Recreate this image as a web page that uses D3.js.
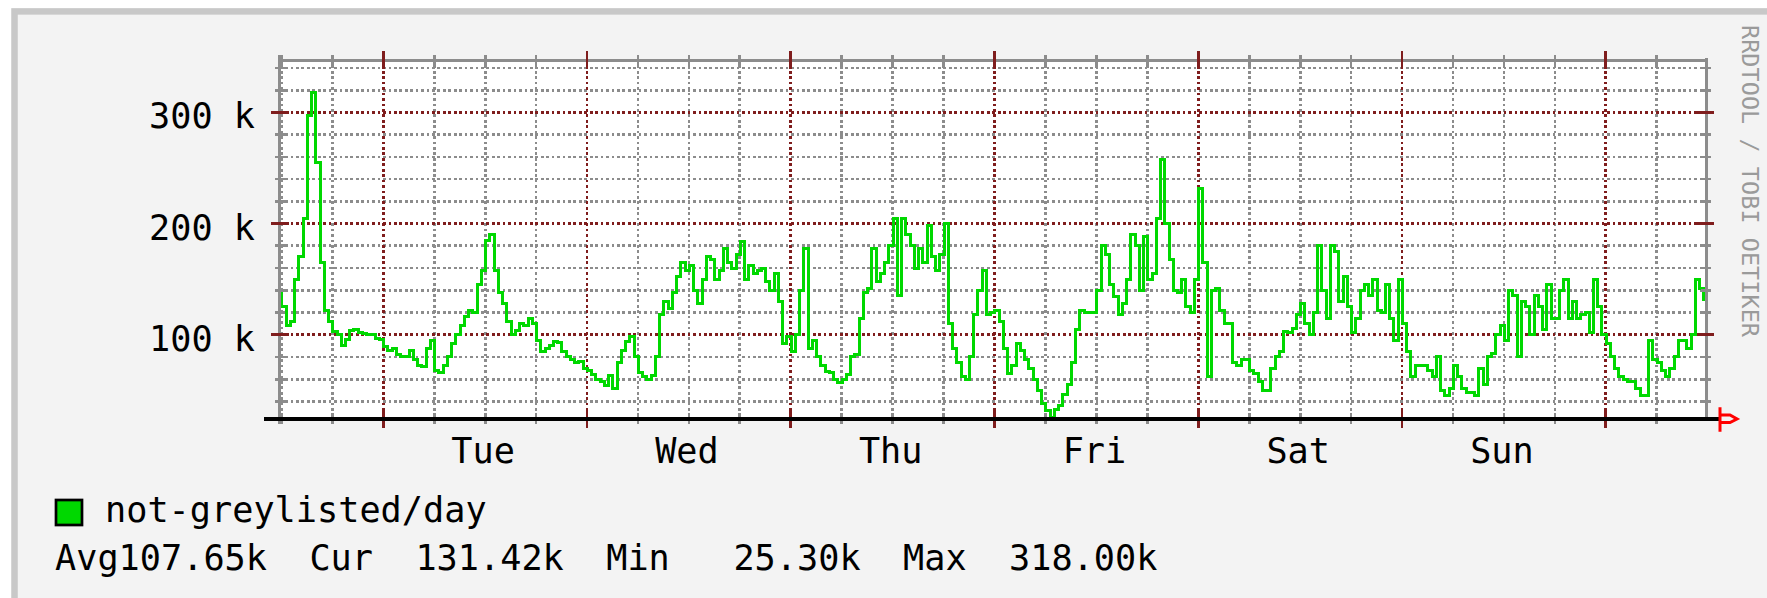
<!DOCTYPE html>
<html><head><meta charset="utf-8">
<script src="https://cdn.jsdelivr.net/npm/d3@7"></script>
<style>
html,body{margin:0;padding:0;background:#fff;}
svg{display:block;}
text{font-family:"DejaVu Sans Mono","Liberation Mono",monospace;white-space:pre;}
line{shape-rendering:crispEdges;}
</style></head><body>
<svg id="c" width="1767" height="598"></svg>
<script>
// ---------------- data ----------------
const seriesName = "not-greylisted/day";
const dayLabels = ["Tue","Wed","Thu","Fri","Sat","Sun"];
const yMajorTicks = [100, 200, 300];            // thousands
const yTickLabels = ["100 k","200 k","300 k"];
const statNames = ["Avg","Cur","Min","Max"];
const statValues = ["107.65k","131.42k"," 25.30k","318.00k"];
const watermark = "RRDTOOL / TOBI OETIKER";
const startTime = new Date(2024, 0, 1, 11, 48);  // Monday 11:48
const stepMinutes = 30;
// values in thousands, one every 30 minutes, Mon 11:48 -> next Mon 11:48
const notGreylisted = [
 137,125,108,112,150,170,205,297,318,255,165,122,112,103,100,90,96,104,105,102,101,100,100,97,96,89,86,88,82,80,
 80,86,78,72,71,88,95,68,66,72,80,92,100,108,116,122,120,145,158,185,190,158,138,128,112,100,104,
 110,108,115,110,95,85,88,90,94,93,85,80,78,75,76,70,68,64,60,58,54,63,52,75,86,94,98,80,66,62,
 60,63,80,118,130,124,138,152,165,158,162,140,128,150,170,168,150,158,178,165,160,172,184,150,162,
 155,158,160,148,140,155,130,92,98,85,100,140,178,88,95,80,72,67,66,60,57,60,64,80,82,115,138,142,
 178,148,155,165,180,205,135,205,190,180,160,178,165,198,170,158,172,200,110,88,75,62,60,80,118,140,158,118,
 120,122,112,88,65,72,92,86,78,70,60,50,38,32,25.3,33,36,46,55,75,105,122,120,120,120,140,180,172,
 145,134,118,128,150,190,180,140,188,150,155,205,258,200,168,140,138,150,125,120,150,232,165,62,140,142,122,110,
 110,75,72,78,78,68,65,58,50,50,70,80,85,103,102,106,118,128,110,100,120,180,140,115,180,175,130,152,
 125,102,115,140,145,135,150,122,120,145,115,95,150,110,85,62,72,72,72,68,62,80,50,45,52,72,62,52,
 48,48,45,70,55,80,83,100,108,95,140,135,80,130,125,100,135,125,105,145,115,115,140,150,115,130,115,118,
 120,102,150,125,100,92,80,70,62,60,58,58,52,45,45,95,78,75,68,62,70,80,95,95,88,100,150,142,131.42
];

// ---------------- layout ----------------
const W = 1767, H = 598;
const plotL = 279.7, plotR = 1706, plotT = 60, plotB = 418.7;
const endTime = new Date(startTime.getTime() + 7*24*3600*1000);
const timeAt = i => new Date(startTime.getTime() + i*stepMinutes*60000);

const x = d3.scaleTime().domain([startTime, endTime]).range([plotL, plotR]);
const y = d3.scaleLinear().domain([24.4, 347.2]).range([plotB, plotT]);

const GREY = "#8c8c8c", RED = "#7f1d1d", GREEN = "#00d800", LW = 2.72, DASH = "2.72 2.72";

const svg = d3.select("#c");
svg.append("rect").attr("width", W).attr("height", H).attr("fill", "#fff");
svg.append("rect").attr("x", 14.5).attr("y", 11.4).attr("width", 1900).attr("height", 800)
  .attr("fill", "#f3f3f3").attr("stroke", "#c8c8c8").attr("stroke-width", 6.5);
svg.append("rect").attr("x", plotL).attr("y", plotT).attr("width", plotR-plotL).attr("height", plotB-plotT).attr("fill", "#fff");

// grid
const yMinor = d3.range(40, 347, 20).filter(v => v % 100 !== 0);
const hMinor = d3.timeHour.every(6).range(startTime, endTime).filter(d => d.getHours() !== 0);
const hMajor = d3.timeDay.range(startTime, endTime);
const g = svg.append("g");
g.selectAll(".hmin").data(yMinor).join("line")
  .attr("x1", plotL).attr("x2", plotR).attr("y1", d => y(d)).attr("y2", d => y(d))
  .attr("stroke", GREY).attr("stroke-width", LW).attr("stroke-dasharray", DASH);
g.selectAll(".vmin").data(hMinor).join("line")
  .attr("x1", d => x(d)).attr("x2", d => x(d)).attr("y1", plotT).attr("y2", plotB)
  .attr("stroke", GREY).attr("stroke-width", LW).attr("stroke-dasharray", DASH);
g.selectAll(".hmaj").data(yMajorTicks).join("line")
  .attr("x1", plotL).attr("x2", plotR).attr("y1", d => y(d)).attr("y2", d => y(d))
  .attr("stroke", RED).attr("stroke-width", LW).attr("stroke-dasharray", DASH);
g.selectAll(".vmaj").data(hMajor).join("line")
  .attr("x1", d => x(d)).attr("x2", d => x(d)).attr("y1", plotT).attr("y2", plotB)
  .attr("stroke", RED).attr("stroke-width", LW).attr("stroke-dasharray", DASH);

// data line
const line = d3.line().x((d, i) => x(timeAt(i))).y(d => y(d)).curve(d3.curveStep);
svg.append("path").datum(notGreylisted).attr("d", line)
  .attr("fill", "none").attr("stroke", GREEN).attr("stroke-width", 3)
  .attr("shape-rendering", "crispEdges");

// frame
svg.append("line").attr("x1", plotL).attr("x2", plotR).attr("y1", plotT).attr("y2", plotT).attr("stroke", GREY).attr("stroke-width", 3);
svg.append("line").attr("x1", plotL).attr("x2", plotL).attr("y1", 55).attr("y2", 424).attr("stroke", GREY).attr("stroke-width", 3);
svg.append("line").attr("x1", plotR).attr("x2", plotR).attr("y1", 58).attr("y2", plotB).attr("stroke", GREY).attr("stroke-width", 3);

// ticks
const t = svg.append("g");
t.selectAll(".tyl").data(yMinor).join("line").attr("x1", plotL-4.5).attr("x2", plotL+5.5)
  .attr("y1", d => y(d)).attr("y2", d => y(d)).attr("stroke", GREY).attr("stroke-width", LW);
t.selectAll(".tyr").data(yMinor).join("line").attr("x1", plotR-5.5).attr("x2", plotR+5)
  .attr("y1", d => y(d)).attr("y2", d => y(d)).attr("stroke", GREY).attr("stroke-width", LW);
t.selectAll(".tYl").data(yMajorTicks).join("line").attr("x1", plotL-9).attr("x2", plotL+9)
  .attr("y1", d => y(d)).attr("y2", d => y(d)).attr("stroke", RED).attr("stroke-width", LW);
t.selectAll(".tYr").data(yMajorTicks).join("line").attr("x1", plotR-9).attr("x2", plotR+8)
  .attr("y1", d => y(d)).attr("y2", d => y(d)).attr("stroke", RED).attr("stroke-width", LW);
t.selectAll(".txt").data(hMinor).join("line").attr("x1", d => x(d)).attr("x2", d => x(d))
  .attr("y1", plotT-5).attr("y2", plotT+5).attr("stroke", GREY).attr("stroke-width", LW);
t.selectAll(".txb").data(hMinor).join("line").attr("x1", d => x(d)).attr("x2", d => x(d))
  .attr("y1", plotB-6).attr("y2", plotB+5.5).attr("stroke", GREY).attr("stroke-width", LW);
t.selectAll(".tXt").data(hMajor).join("line").attr("x1", d => x(d)).attr("x2", d => x(d))
  .attr("y1", plotT-9).attr("y2", plotT+9).attr("stroke", RED).attr("stroke-width", LW);
t.selectAll(".tXb").data(hMajor).join("line").attr("x1", d => x(d)).attr("x2", d => x(d))
  .attr("y1", plotB-9).attr("y2", plotB+9.5).attr("stroke", RED).attr("stroke-width", LW);

// x axis + arrow
svg.append("line").attr("x1", 264).attr("x2", 1719).attr("y1", plotB).attr("y2", plotB).attr("stroke", "#000").attr("stroke-width", 3.6);
svg.append("path").attr("d", "M1720,407.3 V431.7 M1720,415 H1730 L1737,419 L1730,422.5 H1720")
  .attr("fill", "none").attr("stroke", "#f00").attr("stroke-width", 3);

// labels
const FS = 35.2, CW = 21.2;
svg.selectAll(".yl").data(yMajorTicks).join("text")
  .attr("x", 255).attr("y", d => y(d) + 16).attr("text-anchor", "end")
  .attr("font-size", FS).attr("fill", "#000").text((d, i) => yTickLabels[i]);
const noons = hMajor.map(d => d3.timeHour.offset(d, 12)).filter(d => d > startTime && d < endTime);
svg.selectAll(".xl").data(noons).join("text")
  .attr("x", d => x(d) - 2).attr("y", 463).attr("text-anchor", "middle")
  .attr("font-size", FS).attr("fill", "#000").text((d, i) => dayLabels[i]);

// legend
svg.append("rect").attr("x", 56).attr("y", 500).attr("width", 26).attr("height", 25)
  .attr("fill", GREEN).attr("stroke", "#000").attr("stroke-width", 2.7);
svg.append("text").attr("x", 105).attr("y", 522).attr("font-size", FS).attr("fill", "#000")
  .attr("textLength", seriesName.length*CW).attr("lengthAdjust", "spacing").text(seriesName);
const stats = statNames.map((n, i) => (i === 0 ? n : n + "  ") + statValues[i]).join("  ");
svg.append("text").attr("x", 55).attr("y", 570).attr("font-size", FS).attr("fill", "#000")
  .attr("textLength", stats.length*CW).attr("lengthAdjust", "spacing").text(stats);

// watermark
svg.append("text").attr("transform", "translate(1742,25) rotate(90)")
  .attr("font-size", 23.5).attr("fill", "#9a9a9a")
  .attr("textLength", 312).attr("lengthAdjust", "spacing").text(watermark);
</script>
</body></html>
